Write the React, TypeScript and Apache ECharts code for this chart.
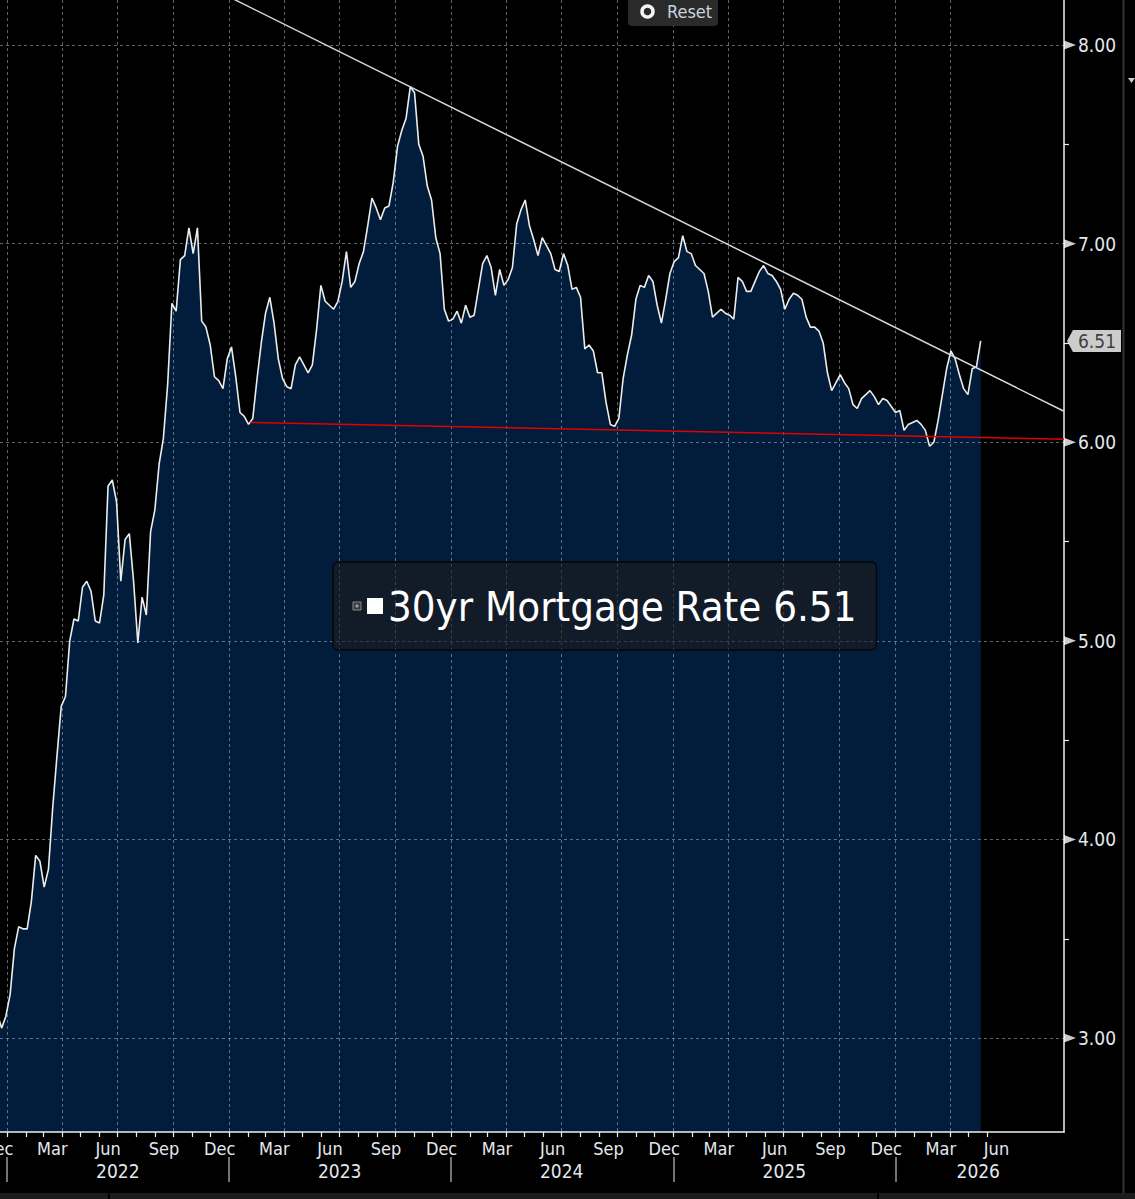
import React, { useEffect, useRef } from "react";
import * as echarts from "echarts";

const FONT = '"DejaVu Sans Condensed", "Liberation Sans Narrow", "DejaVu Sans", sans-serif';
const SERIES_NAME = "30yr Mortgage Rate";

// Weekly (Thursday) readings
const start2021 = [2021, 12, 2];
const rates2021 = [3.11, 3.10, 3.12, 3.05, 3.11];

const start2022 = [2022, 1, 6];
const rates2022 = [
  3.22, 3.45, 3.56, 3.55, 3.55, 3.69, 3.92, 3.89, 3.76, 3.85, 4.16, 4.42, 4.67,
  4.72, 5.00, 5.11, 5.10, 5.27, 5.30, 5.25, 5.10, 5.09, 5.23, 5.78, 5.81, 5.70,
  5.30, 5.51, 5.54, 5.30, 4.99, 5.22, 5.13, 5.55, 5.66, 5.89, 6.02, 6.29, 6.70,
  6.66, 6.92, 6.94, 7.08, 6.95, 7.08, 6.61, 6.58, 6.49, 6.33, 6.31, 6.27, 6.42,
];

const start2023 = [2023, 1, 5];
const rates2023 = [
  6.48, 6.33, 6.15, 6.13, 6.09, 6.12, 6.32, 6.50, 6.65, 6.73, 6.60, 6.42, 6.32,
  6.28, 6.27, 6.39, 6.43, 6.39, 6.35, 6.39, 6.57, 6.79, 6.71, 6.69, 6.67, 6.71,
  6.81, 6.96, 6.78, 6.81, 6.90, 6.96, 7.09, 7.23, 7.18, 7.12, 7.18, 7.19, 7.31,
  7.49, 7.57, 7.63, 7.79, 7.76, 7.50, 7.44, 7.29, 7.22, 7.03, 6.95, 6.67, 6.61,
];

const start2024 = [2024, 1, 4];
const rates2024 = [
  6.62, 6.66, 6.60, 6.69, 6.63, 6.64, 6.77, 6.90, 6.94, 6.88, 6.74, 6.87, 6.79,
  6.82, 6.88, 7.10, 7.17, 7.22, 7.09, 7.02, 6.94, 7.03, 6.99, 6.95, 6.87, 6.86,
  6.95, 6.89, 6.77, 6.78, 6.73, 6.47, 6.49, 6.46, 6.35, 6.35, 6.20, 6.09, 6.08,
  6.12, 6.32, 6.44, 6.54, 6.72, 6.79, 6.78, 6.84, 6.81, 6.69, 6.60, 6.72, 6.85,
];

const start2025 = [2025, 1, 2];
const rates2025 = [
  6.91, 6.93, 7.04, 6.96, 6.95, 6.89, 6.87, 6.85, 6.76, 6.63, 6.65, 6.67, 6.65,
  6.64, 6.62, 6.83, 6.81, 6.76, 6.76, 6.81, 6.86, 6.89, 6.85, 6.84, 6.81, 6.77,
  6.67, 6.72, 6.75, 6.74, 6.72, 6.63, 6.58, 6.58, 6.56, 6.50, 6.35, 6.26, 6.30,
  6.34, 6.30, 6.27, 6.19, 6.17, 6.22, 6.24, 6.26, 6.23, 6.19, 6.22, 6.21, 6.18,
];

const start2026 = [2026, 1, 1];
const rates2026 = [
  6.15, 6.16, 6.06, 6.09, 6.10, 6.11, 6.09, 6.06, 5.98, 6.00, 6.11, 6.24, 6.37,
  6.46, 6.42, 6.34, 6.27, 6.24, 6.37, 6.38, 6.51,
];

// Axis extents
const xStart = [2021, 11, 1];
const xEnd = [2026, 10, 5];
const yMin = 2.527;
const yMax = 8.227;

// Tick labels / positions
const yMajorTicks = [3, 4, 5, 6, 7, 8];
const yMinorTicks = [3.5, 4.5, 5.5, 6.5, 7.5];
const MONTHS = ["Jan", "Feb", "Mar", "Apr", "May", "Jun", "Jul", "Aug", "Sep", "Oct", "Nov", "Dec"];
const labeledMonths = ["Mar", "Jun", "Sep", "Dec"];
const monthTicksFrom = [2021, 12];
const monthTicksTo = [2026, 6];
const quarterGridFrom = [2022, 1];
const quarterGridTo = [2026, 4];
const yearLabels = [2022, 2023, 2024, 2025, 2026];
const yearLabelDates = [
  [2022, 7, 2],
  [2023, 7, 2],
  [2024, 7, 1],
  [2025, 7, 2],
  [2026, 5, 17],
];

// Trend lines (annotation end points)
const resistanceLine = [
  [[2022, 12, 1], 8.29],
  [[2026, 10, 5], 6.156],
];
const supportLine = [
  [[2023, 2, 5], 6.10],
  [[2026, 10, 5], 6.015],
];

const DAY = 86400000;
function utc(y: number, m: number, d: number) {
  return Date.UTC(y, m - 1, d);
}
function weekly(start: number[], values: number[]) {
  const t0 = utc(start[0], start[1], start[2]);
  return values.map((v, i) => [t0 + i * 7 * DAY, v]);
}
function monthStarts(from: number[], to: number[]) {
  const out: number[] = [];
  let y = from[0];
  let m = from[1];
  while (y < to[0] || (y === to[0] && m <= to[1])) {
    out.push(utc(y, m, 1));
    m++;
    if (m > 12) {
      m = 1;
      y++;
    }
  }
  return out;
}

const rateData = [
  ...weekly(start2021, rates2021),
  ...weekly(start2022, rates2022),
  ...weekly(start2023, rates2023),
  ...weekly(start2024, rates2024),
  ...weekly(start2025, rates2025),
  ...weekly(start2026, rates2026),
];
const lastValue = rateData[rateData.length - 1][1];

const xMin = utc(xStart[0], xStart[1], xStart[2]);
const xMax = utc(xEnd[0], xEnd[1], xEnd[2]);

const monthTickValues = monthStarts(monthTicksFrom, monthTicksTo);
const monthLabelValues = monthTickValues
  .filter((t) => labeledMonths.indexOf(MONTHS[new Date(t).getUTCMonth()]) >= 0)
  .map((t) => {
    const d = new Date(t);
    const next = Date.UTC(d.getUTCFullYear(), d.getUTCMonth() + 1, 1);
    return (t + next) / 2;
  });
const quarterGridValues = monthStarts(quarterGridFrom, quarterGridTo).filter(
  (t) => new Date(t).getUTCMonth() % 3 === 0
);
const yearStartValues = yearLabels.map((y) => utc(y, 1, 1));
const yearLabelValues = yearLabelDates.map((d) => utc(d[0], d[1], d[2]));

const toPoints = (line: any[]) => line.map((p) => [utc(p[0][0], p[0][1], p[0][2]), p[1]]);

const GRID_DASH = { color: "rgba(170,182,198,0.55)", type: [3, 3] as any, width: 1 };

const option: any = {
  animation: false,
  backgroundColor: "#000000",
  grid: {
    left: -30,
    right: 71,
    top: 0,
    bottom: 67,
    containLabel: false,
    outerBoundsMode: "none",
  },
  legend: {
    show: true,
    data: [{ name: SERIES_NAME, icon: "rect", itemStyle: { color: "#ffffff" } }],
    left: 333,
    top: 562,
    padding: [23, 20, 23, 34],
    backgroundColor: "rgba(30,28,28,0.6)",
    borderColor: "#05070a",
    borderWidth: 1.5,
    borderRadius: 5,
    itemWidth: 16,
    itemHeight: 16,
    selectedMode: false,
    textStyle: { color: "#ffffff", fontSize: 41.6, fontFamily: FONT },
    formatter: (name: string) => `${name} ${lastValue.toFixed(2)}`,
  },
  xAxis: [
    {
      type: "value",
      min: xMin,
      max: xMax,
      position: "bottom",
      z: 2,
      axisLine: { show: true, lineStyle: { color: "#f0f0f0", width: 1.5 } },
      axisTick: { show: true, customValues: monthTickValues, length: 5, lineStyle: { color: "#eeeeee", width: 1.2 } },
      axisLabel: {
        show: true,
        customValues: monthLabelValues,
        formatter: (v: number) => MONTHS[new Date(v).getUTCMonth()],
        color: "#e2e8ee",
        fontSize: 18,
        fontFamily: FONT,
        margin: 7,
      },
      splitLine: { show: false },
    },
    {
      type: "value",
      min: xMin,
      max: xMax,
      position: "bottom",
      z: 2,
      axisLine: { show: false },
      axisTick: { show: false, customValues: quarterGridValues },
      axisLabel: { show: false },
      splitLine: { show: true, lineStyle: GRID_DASH },
    },
    {
      type: "value",
      min: xMin,
      max: xMax,
      position: "bottom",
      offset: 25,
      z: 2,
      axisLine: { show: false },
      axisTick: { show: true, customValues: yearStartValues, length: 25, lineStyle: { color: "#9a9a9a", width: 1.5 } },
      axisLabel: {
        show: true,
        customValues: yearLabelValues,
        formatter: (v: number) => String(new Date(v).getUTCFullYear()),
        color: "#e2e8ee",
        fontSize: 19,
        fontFamily: FONT,
        margin: 4,
      },
      splitLine: { show: false },
    },
  ],
  yAxis: [
    {
      type: "value",
      position: "right",
      min: yMin,
      max: yMax,
      z: 2,
      axisLine: { show: true, lineStyle: { color: "#f0f0f0", width: 1.5 } },
      axisTick: { show: false, customValues: yMajorTicks },
      axisLabel: {
        show: true,
        customValues: yMajorTicks,
        formatter: (v: number) => v.toFixed(2),
        color: "#e2e8ee",
        fontSize: 19,
        fontFamily: FONT,
        margin: 14,
      },
      splitLine: { show: true, lineStyle: GRID_DASH },
    },
    {
      type: "value",
      position: "right",
      min: yMin,
      max: yMax,
      z: 2,
      axisLine: { show: false },
      axisTick: { show: true, customValues: yMinorTicks, length: 5, lineStyle: { color: "#eeeeee", width: 1.2 } },
      axisLabel: { show: false },
      splitLine: { show: false },
    },
  ],
  series: [
    {
      type: "line",
      name: "fill",
      data: rateData,
      symbol: "none",
      silent: true,
      z: 1,
      lineStyle: { width: 0, opacity: 0 },
      areaStyle: { color: "#021d3b", opacity: 1, origin: "start" },
    },
    {
      type: "line",
      name: SERIES_NAME,
      data: rateData,
      symbol: "none",
      z: 3,
      itemStyle: { color: "#ffffff" },
      lineStyle: { color: "#ececec", width: 1.6 },
    },
    {
      type: "line",
      name: "resistance",
      data: toPoints(resistanceLine),
      symbol: "none",
      silent: true,
      z: 4,
      lineStyle: { color: "#d6d6d6", width: 1.5 },
    },
    {
      type: "line",
      name: "support",
      data: toPoints(supportLine),
      symbol: "none",
      silent: true,
      z: 4,
      lineStyle: { color: "#e00000", width: 1.5 },
    },
    {
      type: "scatter",
      name: "axisMarks",
      data: yMajorTicks.map((v) => [xMax, v]),
      symbol: "triangle",
      symbolSize: [9, 12],
      symbolRotate: -90,
      symbolOffset: [6, 0],
      clip: false,
      silent: true,
      z: 6,
      itemStyle: { color: "#ffffff" },
    },
    {
      type: "scatter",
      name: "lastTag",
      data: [[xMax, lastValue]],
      symbol: "path://M0,11L6,0L54,0L54,22L6,22Z",
      symbolSize: [54, 22],
      symbolOffset: [30, 0],
      clip: false,
      silent: true,
      z: 7,
      itemStyle: { color: "#ffffff" },
      label: {
        show: true,
        position: "inside",
        offset: [3, 0],
        formatter: () => lastValue.toFixed(2),
        color: "#151515",
        fontSize: 19,
        fontFamily: FONT,
      },
    },
  ],
  graphic: [
    { type: "rect", z: 100, shape: { x: 628, y: -6, width: 90, height: 32, r: 4 }, style: { fill: "#2a2a2a" } },
    { type: "circle", z: 101, shape: { cx: 647.5, cy: 11.5, r: 5.5 }, style: { fill: "none", stroke: "#f4f4f4", lineWidth: 3.5 } },
    {
      type: "text",
      z: 101,
      x: 667,
      y: 11.5,
      style: { text: "Reset", fill: "#c9d3dd", font: `18px ${FONT}`, verticalAlign: "middle" },
    },
    { type: "rect", z: 100, shape: { x: 353, y: 602, width: 8, height: 8 }, style: { fill: "rgba(70,70,70,0.7)", stroke: "#8a8a8a", lineWidth: 1 } },
    { type: "line", z: 101, shape: { x1: 355, y1: 606, x2: 359, y2: 606 }, style: { stroke: "#b0b0b0", lineWidth: 1 } },
    { type: "line", z: 101, shape: { x1: 357, y1: 604, x2: 357, y2: 608 }, style: { stroke: "#b0b0b0", lineWidth: 1 } },
    { type: "line", z: 100, shape: { x1: 1123.5, y1: 0, x2: 1123.5, y2: 1199 }, style: { stroke: "#333333", lineWidth: 2 } },
    { type: "polygon", z: 100, shape: { points: [[1128, 78], [1135, 78], [1131.5, 83]] }, style: { fill: "#cccccc" } },
    { type: "rect", z: 100, shape: { x: 0, y: 1193, width: 1135, height: 6 }, style: { fill: "#1c1c1c" } },
    { type: "line", z: 101, shape: { x1: 109, y1: 1193, x2: 109, y2: 1199 }, style: { stroke: "#000000", lineWidth: 2 } },
    { type: "line", z: 101, shape: { x1: 878, y1: 1193, x2: 878, y2: 1199 }, style: { stroke: "#000000", lineWidth: 2 } },
  ],
};

export default function App() {
  const ref = useRef<HTMLDivElement>(null);
  useEffect(() => {
    const chart = echarts.init(ref.current as HTMLDivElement, null, { renderer: "svg" });
    chart.setOption(option);
    return () => chart.dispose();
  }, []);
  return (
    <div
      ref={ref}
      style={{ position: "fixed", left: 0, top: 0, width: 1135, height: 1199, background: "#000" }}
    />
  );
}
